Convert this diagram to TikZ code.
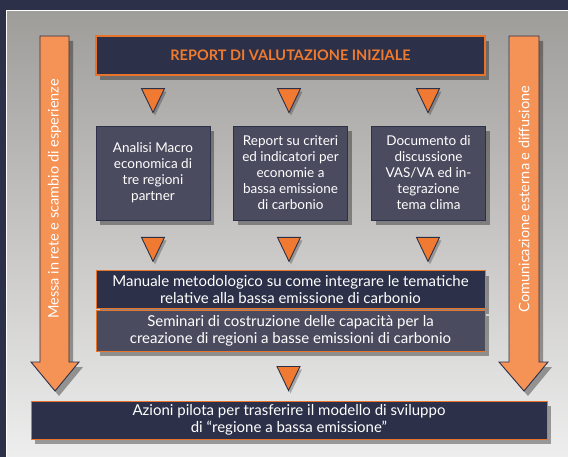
\documentclass[tikz,border=0pt]{standalone}
\usepackage{fontspec}
\setmainfont{Lato}
\usetikzlibrary{shadows,calc}
\definecolor{navy}{HTML}{2C3149}
\definecolor{slate}{HTML}{4B4B5F}
\definecolor{oborder}{HTML}{E8732A}
\definecolor{afill}{HTML}{F59256}
\definecolor{tfill}{HTML}{F07A32}
\definecolor{ttext}{HTML}{F07A2E}
\definecolor{ptop}{HTML}{9F9D9A}
\definecolor{pmid}{HTML}{C9C8C7}
\definecolor{pbot}{HTML}{EEEEEE}
\tikzset{
  shd/.style={drop shadow={shadow xshift=4pt, shadow yshift=-5pt, opacity=0.35, fill=black}},
  boxtxt/.style={text=white, align=center, inner sep=0pt, font=\fontsize{13.5}{16}\selectfont},
  midbox/.style={boxtxt, shd, fill=slate, draw=navy, line width=0.8pt, minimum width=114, minimum height=94},
  widebox/.style={boxtxt, shd, draw=oborder, line width=1pt, font=\fontsize{15}{17}\selectfont},
  bigarrow/.style={fill=afill, draw=navy, line width=0.9pt, line join=miter, shd},
  trishape/.style={fill=tfill, draw=navy, line width=0.9pt, line join=miter,
     drop shadow={shadow xshift=2pt, shadow yshift=-3pt, opacity=0.25, fill=black}},
  sidetxt/.style={text=white, inner sep=0pt, font=\fontsize{14.5}{16}\selectfont},
  tri/.pic={\path[trishape] (-11.5,0) -- (11.5,0) -- (0,24) -- cycle;}
}
\begin{document}
\begin{tikzpicture}[x=1pt,y=-1pt]
\useasboundingbox (0,0) rectangle (568,457);
\fill[navy] (0,0) rectangle (568,457);
\shade[top color=ptop, middle color=pmid, bottom color=pbot] (6,11) rectangle (568,457);
\draw[white, line width=1pt] (6,457) -- (6,11) -- (568,11);

% side arrows
\path[bigarrow] (40,36) -- (69,36) -- (69,362) -- (79,362) -- (55,391) -- (31,362) -- (40,362) -- cycle;
\path[bigarrow] (509,36) -- (539,36) -- (539,362) -- (548,362) -- (524,391) -- (499,362) -- (509,362) -- cycle;
\node[sidetxt, rotate=90] (lefttxt) at (54.5,199) {Messa in rete e scambio di esperienze};
\node[sidetxt, rotate=90] (righttxt) at (524,199) {Comunicazione esterna e diffusione};

% title
\node[shd, fill=navy, draw=oborder, line width=1.2pt, minimum width=389, minimum height=39,
      text=ttext, font=\fontsize{14.5}{16}\selectfont\bfseries, inner sep=0pt] (title) at (290.5,55.5)
      {REPORT DI VALUTAZIONE INIZIALE};

% three boxes
\node[midbox] (b1) at (153,173) {Analisi Macro\\economica di\\tre regioni\\partner};
\node[midbox] (b2) at (290.5,173) {Report su criteri\\ed indicatori per\\economie a\\bassa emissione\\di carbonio};
\node[midbox] (b3) at (428.5,173) {Documento di\\discussione\\VAS/VA ed in-\\tegrazione\\tema clima};

% wide boxes
\node[widebox, fill=navy, minimum width=389, minimum height=38] (man) at (290.5,290)
  {Manuale metodologico su come integrare le tematiche\\relative alla bassa emissione di carbonio};
\node[widebox, fill=slate, minimum width=389, minimum height=40] (sem) at (290.5,331)
  {Seminari di costruzione delle capacità per la\\creazione di regioni a basse emissioni di carbonio};
\node[widebox, fill=navy, minimum width=516, minimum height=38] (pilot) at (289,420)
  {Azioni pilota per trasferire il modello di sviluppo\\di “regione a bassa emissione”};

% triangles
\path ($(title.south -| b1.north)+(0,13)$) pic {tri};
\path ($(title.south -| b2.north)+(-1.5,13)$) pic {tri};
\path ($(title.south -| b3.north)+(-0.5,13)$) pic {tri};
\path ($(b1.south)+(0,17)$) pic {tri};
\path ($(b2.south)+(-1.5,17)$) pic {tri};
\path ($(b3.south)+(-0.5,17)$) pic {tri};
\path ($(sem.south)+(-2,15)$) pic {tri};
\end{tikzpicture}
\end{document}
